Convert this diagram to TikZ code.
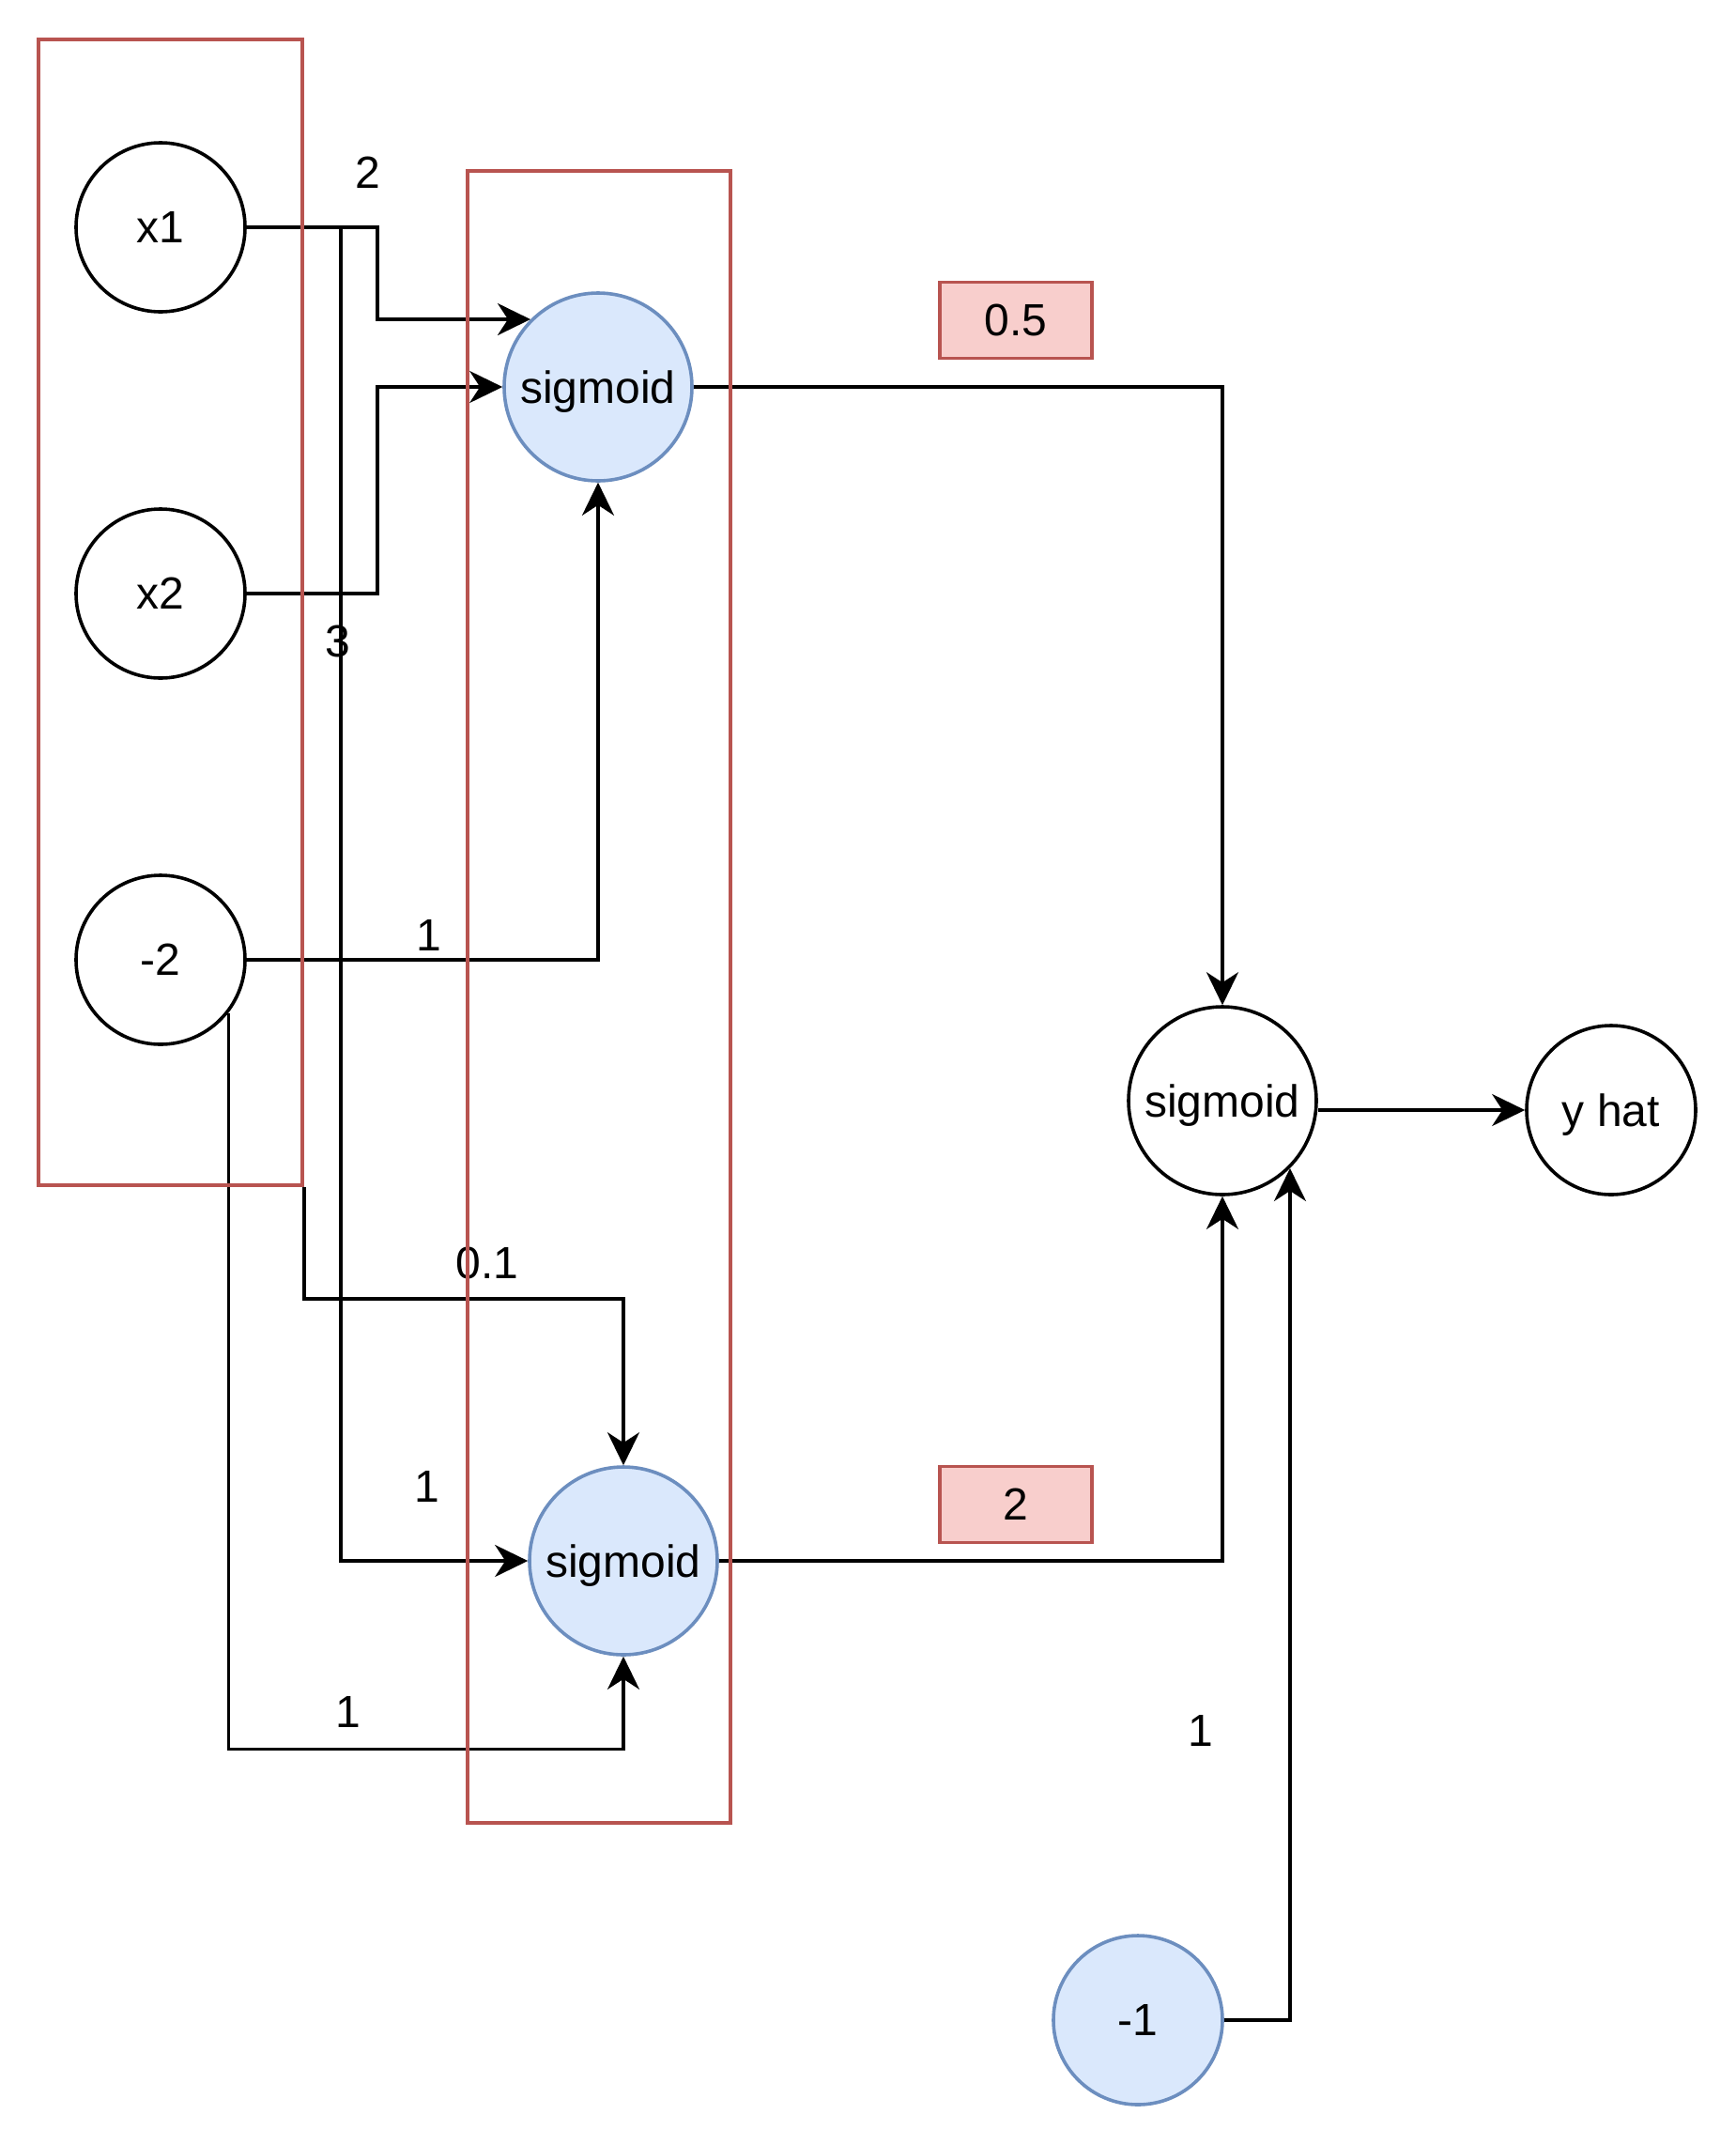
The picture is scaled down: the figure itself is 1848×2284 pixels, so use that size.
\documentclass[tikz,border=0pt]{standalone}
\usepackage{fontspec}
\setmainfont{Liberation Sans}
\usetikzlibrary{arrows.meta}
\definecolor{redstroke}{HTML}{B85450}
\definecolor{redfill}{HTML}{F8CECC}
\definecolor{bluestroke}{HTML}{6C8EBF}
\definecolor{bluefill}{HTML}{DAE8FC}
\pgfdeclarelayer{front}
\pgfsetlayers{main,front}
\begin{document}
\begin{tikzpicture}[x=1pt,y=-1pt,
  every node/.style={font=\fontsize{48}{56}\selectfont, inner sep=0pt},
  plain/.style={circle, draw=black, line width=3.6pt, minimum size=180pt, text depth=0pt},
  neuron/.style={circle, draw=bluestroke, fill=bluefill, line width=3.6pt, minimum size=200pt, text depth=0pt},
  outneuron/.style={circle, draw=black, line width=3.6pt, minimum size=200pt, text depth=0pt},
  wbox/.style={draw=redstroke, fill=redfill, line width=3.6pt, minimum width=162pt, minimum height=81pt},
  grp/.style={draw=redstroke, line width=3.6pt},
  arr/.style={line width=3.6pt, -{Stealth[length=35pt,width=34pt,inset=11pt]}},
  lbl/.style={anchor=center}
]
\useasboundingbox (0,0) rectangle (1848,2284);

% nodes
\node[plain] (x1) at (171,242) {x1};
\node[plain] (x2) at (171,632) {x2};
\node[plain] (m2) at (171,1022) {-2};
\node[neuron] (s1) at (637,412) {sigmoid};
\node[neuron] (s2) at (664,1662) {sigmoid};
\node[outneuron] (s3) at (1302,1172) {sigmoid};
\node[plain] (yhat) at (1716,1182) {y hat};
\node[neuron, minimum size=180pt] (m1) at (1212,2151) {-1};

\node[wbox] (w1) at (1082,341) {0.5};
\node[wbox] (w2) at (1082,1602) {2};

% labels
\node[lbl] (l2) at (392,184) {2};
\node[lbl] (l3) at (360,683) {3};
\node[lbl] (la) at (457,996) {1};
\node[lbl] (lb) at (519,1345) {0.1};
\node[lbl] (lc) at (455,1583) {1};
\node[lbl] (ld) at (371,1823) {1};
\node[lbl] (le) at (1279,1843) {1};

% groups
\begin{pgfonlayer}{front}
\node[grp, minimum width=281pt, minimum height=1220pt] (g1) at (181.5,652) {};
\node[grp, minimum width=280pt, minimum height=1759pt] (g2) at (638,1061.5) {};
\end{pgfonlayer}

% edges
\draw[arr] (x1.east) -- ++(139,0) |- (s1.135);
\draw[arr] (x2.east) -- ++(139,0) |- (s1.west);
\draw[arr] (x1.east) -- ++(100,0) |- (s2.west);
\draw[arr] (m2.east) -| (s1.south);
\draw[arr] (m2.-38) -- ++(0,784) -| (s2.south);
\draw[arr] (g1.south east) -- ++(0,119) -| (s2.north);
\draw[arr] (s1.east) -| (s3.north);
\draw[arr] (s2.east) -| (s3.south);
\draw[arr] (s3.east |- yhat.west) -- (yhat.west);
\draw[arr] (m1.east) -| (s3.-45);
\end{tikzpicture}
\end{document}
